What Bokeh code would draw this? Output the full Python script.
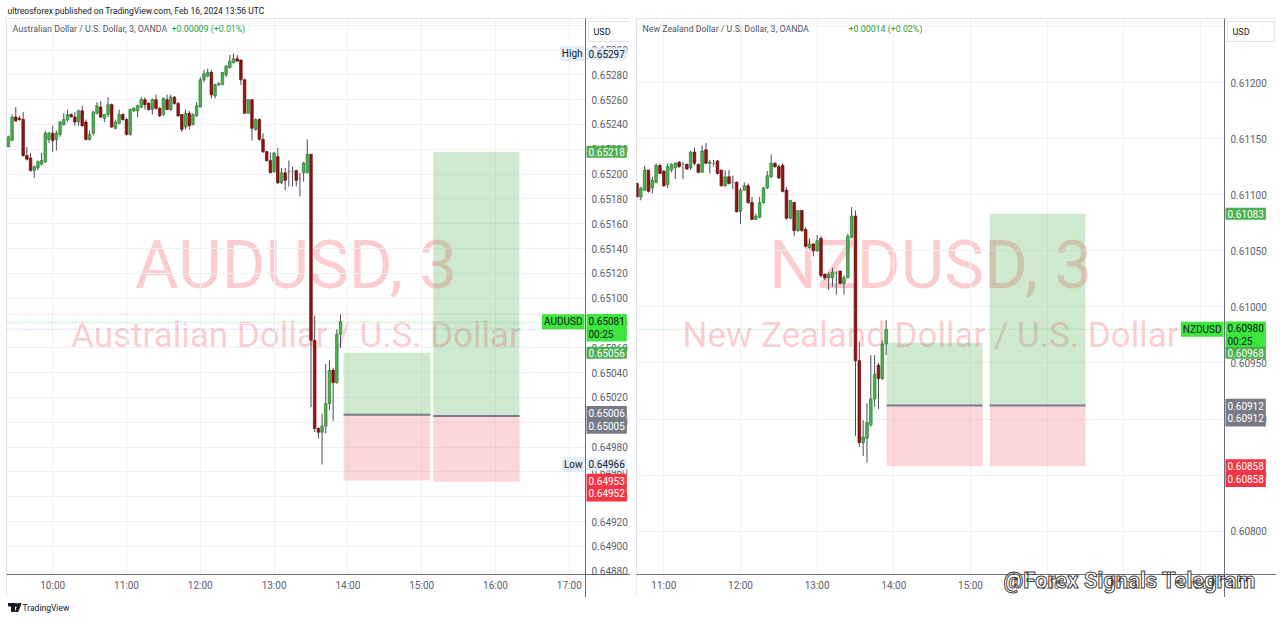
import pandas as pd
from bokeh.plotting import figure
from bokeh.models import (Range1d, FixedTicker, DatetimeTickFormatter,
                          PrintfTickFormatter, Label, Span, ColumnDataSource)
from bokeh.layouts import row, column
from bokeh.embed import file_html
from bokeh.resources import INLINE
from bokeh.core.properties import value

DAY = "2024-02-16 "
FONT = "Roboto"

TITLE = "ultreosforex published on TradingView.com, Feb 16, 2024 13:56 UTC"
FOOTER = "TradingView"
STAMP = "@Forex Signals Telegram"

# ---------------- AUDUSD, OANDA, 3-minute bars from 09:24 to 13:54 UTC ----------------
aud_first_bar = "09:24"
aud_open = [0.65222, 0.65227, 0.65246, 0.65245, 0.65244, 0.65215, 0.65213, 0.65203, 0.65205, 0.65208,
            0.65210, 0.65228, 0.65233, 0.65228, 0.65232, 0.65240, 0.65244, 0.65248, 0.65246, 0.65242,
            0.65251, 0.65242, 0.65228, 0.65233, 0.65249, 0.65254, 0.65245, 0.65248, 0.65256, 0.65237,
            0.65241, 0.65248, 0.65244, 0.65232, 0.65251, 0.65251, 0.65254, 0.65260, 0.65257, 0.65252,
            0.65260, 0.65253, 0.65248, 0.65260, 0.65252, 0.65262, 0.65257, 0.65248, 0.65238, 0.65249,
            0.65240, 0.65247, 0.65254, 0.65276, 0.65279, 0.65282, 0.65263, 0.65272, 0.65272, 0.65280,
            0.65286, 0.65290, 0.65293, 0.65292, 0.65276, 0.65249, 0.65260, 0.65236, 0.65244, 0.65228,
            0.65218, 0.65211, 0.65202, 0.65214, 0.65193, 0.65201, 0.65202, 0.65202, 0.65203, 0.65196,
            0.65201, 0.65201, 0.65216, 0.65066, 0.64995, 0.64992, 0.64997, 0.65015, 0.65042, 0.65032,
            0.65071]
aud_high = [0.65231, 0.65248, 0.65254, 0.65247, 0.65250, 0.65222, 0.65217, 0.65207, 0.65211, 0.65217,
            0.65235, 0.65234, 0.65239, 0.65235, 0.65243, 0.65249, 0.65252, 0.65249, 0.65250, 0.65252,
            0.65255, 0.65244, 0.65235, 0.65251, 0.65258, 0.65259, 0.65248, 0.65262, 0.65257, 0.65244,
            0.65252, 0.65249, 0.65245, 0.65253, 0.65254, 0.65256, 0.65262, 0.65262, 0.65258, 0.65261,
            0.65264, 0.65254, 0.65262, 0.65264, 0.65264, 0.65263, 0.65258, 0.65248, 0.65252, 0.65251,
            0.65249, 0.65258, 0.65278, 0.65284, 0.65285, 0.65284, 0.65273, 0.65274, 0.65282, 0.65288,
            0.65296, 0.65297, 0.65296, 0.65292, 0.65277, 0.65260, 0.65260, 0.65245, 0.65245, 0.65233,
            0.65219, 0.65217, 0.65218, 0.65221, 0.65205, 0.65205, 0.65211, 0.65206, 0.65203, 0.65201,
            0.65210, 0.65228, 0.65216, 0.65086, 0.64996, 0.65007, 0.65047, 0.65050, 0.65044, 0.65075,
            0.65087]
aud_low = [0.65222, 0.65227, 0.65242, 0.65243, 0.65214, 0.65211, 0.65202, 0.65197, 0.65203, 0.65207,
           0.65209, 0.65225, 0.65218, 0.65219, 0.65230, 0.65239, 0.65242, 0.65246, 0.65239, 0.65239,
           0.65238, 0.65227, 0.65227, 0.65231, 0.65248, 0.65245, 0.65242, 0.65246, 0.65237, 0.65236,
           0.65240, 0.65243, 0.65231, 0.65231, 0.65250, 0.65246, 0.65253, 0.65252, 0.65251, 0.65248,
           0.65252, 0.65246, 0.65247, 0.65252, 0.65251, 0.65256, 0.65246, 0.65234, 0.65236, 0.65236,
           0.65239, 0.65246, 0.65254, 0.65274, 0.65278, 0.65261, 0.65261, 0.65271, 0.65272, 0.65278,
           0.65285, 0.65289, 0.65291, 0.65272, 0.65249, 0.65249, 0.65227, 0.65235, 0.65227, 0.65217,
           0.65210, 0.65201, 0.65201, 0.65192, 0.65192, 0.65187, 0.65190, 0.65190, 0.65190, 0.65182,
           0.65194, 0.65201, 0.65012, 0.64992, 0.64987, 0.64966, 0.64991, 0.65010, 0.65001, 0.65031,
           0.65060]
aud_close = [0.65230, 0.65246, 0.65243, 0.65244, 0.65215, 0.65212, 0.65203, 0.65206, 0.65210, 0.65211,
             0.65233, 0.65233, 0.65227, 0.65233, 0.65242, 0.65244, 0.65248, 0.65246, 0.65242, 0.65251,
             0.65239, 0.65228, 0.65232, 0.65250, 0.65255, 0.65246, 0.65248, 0.65256, 0.65238, 0.65242,
             0.65248, 0.65244, 0.65232, 0.65252, 0.65253, 0.65255, 0.65260, 0.65256, 0.65252, 0.65260,
             0.65253, 0.65247, 0.65261, 0.65252, 0.65262, 0.65257, 0.65247, 0.65236, 0.65249, 0.65239,
             0.65248, 0.65255, 0.65276, 0.65281, 0.65282, 0.65264, 0.65272, 0.65273, 0.65282, 0.65287,
             0.65291, 0.65293, 0.65291, 0.65276, 0.65249, 0.65260, 0.65237, 0.65244, 0.65228, 0.65218,
             0.65211, 0.65201, 0.65217, 0.65193, 0.65201, 0.65195, 0.65202, 0.65202, 0.65195, 0.65196,
             0.65209, 0.65216, 0.65066, 0.64995, 0.64992, 0.64997, 0.65015, 0.65042, 0.65032, 0.65071,
             0.65081]
aud_hour_ticks = ["10:00", "11:00", "12:00", "13:00", "14:00", "15:00", "16:00", "17:00"]
aud_price_ticks = [0.6488, 0.6490, 0.6492, 0.6494, 0.6496, 0.6498, 0.6500, 0.6502, 0.6504, 0.6506,
                   0.6508, 0.6510, 0.6512, 0.6514, 0.6516, 0.6518, 0.6520, 0.6522, 0.6524, 0.6526,
                   0.6528, 0.6530, 0.6532]
# visible window: time start, time end, price low, price high; price-scale and time-scale positions
aud_view = ("09:22:27", "17:49:45", 0.648588, 0.653254)
aud_axis_time, aud_axis_price = "17:13:10", 0.648773
aud_pos_start = ["13:56:30", "15:09:30"]
aud_pos_end = ["15:07:00", "16:19:30"]
aud_pos_target = [0.65056, 0.65218]
aud_pos_entry = [0.65006, 0.65005]
aud_pos_stop = [0.64953, 0.64952]
aud_day_high, aud_day_low = 0.65297, 0.64966
aud_last = 0.65081
aud_quote_lines = [(0.65087, "#f7a1a1"), (0.65081, "#8fdc8f"), (0.65075, "#9fb6e8")]
aud_change = "+0.00009 (+0.01%)"

# ---------------- NZDUSD, OANDA, 3-minute bars from 10:39 to 13:54 UTC ----------------
nzd_first_bar = "10:39"
nzd_open = [0.61110, 0.61098, 0.61104, 0.61122, 0.61106, 0.61111, 0.61126, 0.61121, 0.61109, 0.61122,
            0.61124, 0.61129, 0.61127, 0.61127, 0.61124, 0.61138, 0.61127, 0.61120, 0.61140, 0.61128,
            0.61128, 0.61130, 0.61122, 0.61108, 0.61116, 0.61111, 0.61111, 0.61085, 0.61104, 0.61108,
            0.61093, 0.61078, 0.61080, 0.61093, 0.61106, 0.61116, 0.61128, 0.61125, 0.61126, 0.61104,
            0.61079, 0.61093, 0.61068, 0.61086, 0.61069, 0.61053, 0.61056, 0.61050, 0.61061, 0.61029,
            0.61026, 0.61026, 0.61030, 0.61032, 0.61021, 0.61026, 0.61062, 0.61081, 0.60952, 0.60879,
            0.60883, 0.60895, 0.60918, 0.60948, 0.60936, 0.60967]
nzd_high = [0.61111, 0.61107, 0.61126, 0.61122, 0.61116, 0.61128, 0.61128, 0.61122, 0.61128, 0.61128,
            0.61129, 0.61130, 0.61129, 0.61128, 0.61139, 0.61142, 0.61128, 0.61144, 0.61146, 0.61131,
            0.61131, 0.61131, 0.61122, 0.61122, 0.61122, 0.61117, 0.61112, 0.61106, 0.61111, 0.61110,
            0.61098, 0.61083, 0.61098, 0.61107, 0.61121, 0.61136, 0.61129, 0.61127, 0.61128, 0.61107,
            0.61095, 0.61094, 0.61086, 0.61086, 0.61071, 0.61061, 0.61057, 0.61064, 0.61063, 0.61030,
            0.61031, 0.61035, 0.61032, 0.61032, 0.61028, 0.61065, 0.61089, 0.61086, 0.60969, 0.60899,
            0.60914, 0.60957, 0.60957, 0.60950, 0.60970, 0.60988]
nzd_low = [0.61098, 0.61095, 0.61104, 0.61102, 0.61101, 0.61110, 0.61118, 0.61107, 0.61106, 0.61120,
           0.61114, 0.61124, 0.61114, 0.61122, 0.61122, 0.61126, 0.61119, 0.61120, 0.61127, 0.61119,
           0.61125, 0.61118, 0.61107, 0.61107, 0.61109, 0.61105, 0.61084, 0.61074, 0.61104, 0.61092,
           0.61078, 0.61078, 0.61079, 0.61092, 0.61105, 0.61115, 0.61124, 0.61114, 0.61102, 0.61078,
           0.61078, 0.61063, 0.61067, 0.61067, 0.61053, 0.61052, 0.61045, 0.61049, 0.61026, 0.61024,
           0.61015, 0.61018, 0.61011, 0.61020, 0.61011, 0.61026, 0.61061, 0.60885, 0.60875, 0.60867,
           0.60861, 0.60893, 0.60911, 0.60909, 0.60935, 0.60957]
nzd_close = [0.61098, 0.61106, 0.61122, 0.61103, 0.61113, 0.61126, 0.61119, 0.61108, 0.61125, 0.61127,
             0.61128, 0.61125, 0.61127, 0.61123, 0.61138, 0.61128, 0.61120, 0.61139, 0.61128, 0.61129,
             0.61128, 0.61119, 0.61108, 0.61116, 0.61110, 0.61111, 0.61085, 0.61104, 0.61108, 0.61093,
             0.61078, 0.61081, 0.61093, 0.61106, 0.61117, 0.61128, 0.61125, 0.61115, 0.61103, 0.61079,
             0.61095, 0.61068, 0.61086, 0.61068, 0.61054, 0.61056, 0.61050, 0.61059, 0.61028, 0.61026,
             0.61029, 0.61031, 0.61030, 0.61021, 0.61026, 0.61063, 0.61081, 0.60952, 0.60879, 0.60884,
             0.60897, 0.60918, 0.60940, 0.60936, 0.60967, 0.60980]
nzd_hour_ticks = ["11:00", "12:00", "13:00", "14:00", "15:00", "16:00", "17:00", "18:00"]
nzd_price_ticks = [0.6080, 0.6085, 0.6090, 0.6095, 0.6100, 0.6105, 0.6110, 0.6115, 0.6120, 0.6125]
nzd_view = ("10:38:38", "18:59:28", 0.607409, 0.612571)
nzd_axis_time, nzd_axis_price = "18:18:47", 0.607614
nzd_pos_start = ["13:54:20", "15:15:00"]
nzd_pos_end = ["15:09:30", "16:30:00"]
nzd_pos_target = [0.60968, 0.61083]
nzd_pos_entry = [0.60912, 0.60912]
nzd_pos_stop = [0.60858, 0.60858]
nzd_last = 0.60980
nzd_quote_lines = [(0.60980, "#8fdc8f")]
nzd_change = "+0.00014 (+0.02%)"

# ---------------- styling ----------------
UP_FILL, UP_LINE = "#4caf50", "#2f7d32"
DN_FILL, DN_LINE = "#8e1313", "#6a0c0c"
DOJI = "#787b86"
WICK = "#4a4d57"
TAG_GREEN = "#4caf50"
TAG_LIVE = "#3ce63c"
TAG_GRAY = "#787b86"
TAG_RED = "#f23645"
TAG_HL = "#e3eefb"
TEXT = "#131722"
AXIS_TEXT = "#5d606b"
WATER = "#f23645"
PANEL_H = 579          # whole pane incl. time scale


def stamp(t):
    return pd.Timestamp(DAY + t)


def tag(p, cfg, price, text, bg, fg, inside=False, dy=0):
    cw = cfg["chart_w"]
    x, align = (cw - 1, "right") if inside else (cw + 1, "left")
    p.add_layout(Label(x=x, y=price, x_units="screen", y_units="data", y_offset=dy,
                       text=text, text_align=align, text_baseline="middle",
                       text_font=FONT, text_font_size="10px", text_color=fg,
                       text_line_height=1.15,
                       background_fill_color=bg, background_fill_alpha=1.0,
                       padding=2))


def make_panel(cfg):
    fw, cw = cfg["frame_w"], cfg["chart_w"]
    v0, v1, lo, hi = cfg["view"]
    p = figure(frame_width=fw, frame_height=PANEL_H, title=None,
               x_axis_type="datetime", y_axis_location="right",
               x_range=Range1d(stamp(v0), stamp(v1)), y_range=Range1d(lo, hi),
               min_border_left=6, min_border_right=0,
               min_border_top=0, min_border_bottom=0,
               output_backend="svg", toolbar_location=None)
    p.background_fill_color = "white"
    p.border_fill_color = "white"
    p.outline_line_color = "#e0e3eb"

    axis_t = stamp(cfg["axis_time"])
    # axes drawn inside the pane, like TradingView's price and time scales
    xt = FixedTicker(ticks=[stamp(hh).value / 1e6 for hh in cfg["hour_ticks"]], minor_ticks=[])
    yt = FixedTicker(ticks=cfg["price_ticks"], minor_ticks=[])
    p.xaxis.ticker = xt
    p.xgrid.ticker = xt
    p.yaxis.ticker = yt
    p.ygrid.ticker = yt
    p.yaxis.fixed_location = axis_t.value / 1e6
    p.xaxis.fixed_location = cfg["axis_price"]
    p.xaxis.formatter = DatetimeTickFormatter(
        hours="%H:%M", hourmin="%H:%M", minutes="%H:%M", minsec="%H:%M",
        seconds="%H:%M", days="%H:%M", months="%H:%M", years="%H:%M")
    p.yaxis.formatter = PrintfTickFormatter(format="%.5f")
    p.axis.major_tick_line_color = None
    p.axis.minor_tick_line_color = None
    p.axis.major_tick_out = 0
    p.axis.major_tick_in = 0
    p.axis.minor_tick_out = 0
    p.axis.minor_tick_in = 0
    p.axis.axis_line_color = "#6a6d78"
    p.axis.major_label_text_font = FONT
    p.axis.major_label_text_font_size = "10px"
    p.axis.major_label_text_color = AXIS_TEXT
    p.yaxis.major_label_standoff = 6
    p.xaxis.major_label_standoff = 5
    p.grid.grid_line_color = "#eff1f5"

    # watermark
    p.add_layout(Label(x=cw / 2, y=333, x_units="screen", y_units="screen", text=cfg["symbol"],
                       text_align="center", text_baseline="middle", text_font=FONT,
                       text_font_size="67px", text_color=WATER, text_alpha=0.25, level="image"))
    p.add_layout(Label(x=cw / 2, y=262, x_units="screen", y_units="screen", text=cfg["name"],
                       text_align="center", text_baseline="middle", text_font=FONT,
                       text_font_size="35px", text_color=WATER, text_alpha=0.25, level="image"))

    # bid / ask / last price lines
    for price, col in cfg["quote_lines"]:
        p.add_layout(Span(location=price, dimension="width", line_color=col,
                          line_dash="1 2", line_width=1, level="underlay"))

    # candles
    o, h, l, c = cfg["open"], cfg["high"], cfg["low"], cfg["close"]
    t = pd.date_range(DAY + cfg["first_bar"], periods=len(o), freq="3min")
    src = ColumnDataSource(dict(
        t=t, h=h, l=l,
        top=[max(a, b) for a, b in zip(o, c)],
        bot=[min(a, b) for a, b in zip(o, c)],
        fill=[UP_FILL if b > a else DN_FILL if b < a else DOJI for a, b in zip(o, c)],
        edge=[UP_LINE if b > a else DN_LINE if b < a else DOJI for a, b in zip(o, c)],
    ))
    p.segment(x0="t", y0="h", x1="t", y1="l", source=src, line_color=WICK, line_width=1)
    p.vbar(x="t", width=125000, top="top", bottom="bot", source=src,
           fill_color="fill", line_color="edge", line_width=0.7)

    # long-position tools
    psrc = ColumnDataSource(dict(
        l=pd.to_datetime([DAY + s for s in cfg["pos_start"]]),
        r=pd.to_datetime([DAY + s for s in cfg["pos_end"]]),
        tgt=cfg["pos_target"], ent=cfg["pos_entry"], stp=cfg["pos_stop"]))
    p.quad(left="l", right="r", bottom="ent", top="tgt", source=psrc,
           fill_color=UP_FILL, fill_alpha=0.27, line_color=None)
    p.quad(left="l", right="r", bottom="stp", top="ent", source=psrc,
           fill_color=TAG_RED, fill_alpha=0.2, line_color=None)
    p.segment(x0="l", y0="ent", x1="r", y1="ent", source=psrc, line_color=TAG_GRAY, line_width=2)

    # plain background for the price scale and the time scale
    p.quad(left=[axis_t], right=[stamp(v1)], bottom=[lo], top=[hi],
           fill_color="white", line_color=None)
    p.quad(left=[stamp(v0)], right=[stamp(v1)], bottom=[lo], top=[cfg["axis_price"]],
           fill_color="white", line_color=None)

    # pane legend
    p.add_layout(Label(x=6, y=PANEL_H - 10, x_units="screen", y_units="screen", text=cfg["legend"],
                       text_font=FONT, text_font_size="8.8px", text_color="#50535e",
                       text_baseline="middle"))
    p.add_layout(Label(x=cfg["change_x"], y=PANEL_H - 10, x_units="screen", y_units="screen",
                       text=cfg["change"], text_font=FONT, text_font_size="8.8px",
                       text_color="#2e9c3a", text_baseline="middle"))
    # currency button
    p.add_layout(Label(x=cw + 3, y=PANEL_H - 13, x_units="screen", y_units="screen",
                       text="USD         ", text_font=FONT, text_font_size="9px", text_color=TEXT,
                       text_baseline="middle", background_fill_color="white",
                       border_line_color="#e0e3eb", padding=5))
    return p


aud_cfg = dict(frame_w=624, chart_w=579, view=aud_view, axis_time=aud_axis_time,
               axis_price=aud_axis_price, first_bar=aud_first_bar,
               open=aud_open, high=aud_high, low=aud_low, close=aud_close,
               hour_ticks=aud_hour_ticks, price_ticks=aud_price_ticks,
               symbol="AUDUSD, 3", name="Australian Dollar / U.S. Dollar",
               legend="Australian Dollar / U.S. Dollar, 3, OANDA", change=aud_change, change_x=165,
               pos_start=aud_pos_start, pos_end=aud_pos_end, pos_target=aud_pos_target,
               pos_entry=aud_pos_entry, pos_stop=aud_pos_stop, quote_lines=aud_quote_lines)
nzd_cfg = dict(frame_w=640, chart_w=588, view=nzd_view, axis_time=nzd_axis_time,
               axis_price=nzd_axis_price, first_bar=nzd_first_bar,
               open=nzd_open, high=nzd_high, low=nzd_low, close=nzd_close,
               hour_ticks=nzd_hour_ticks, price_ticks=nzd_price_ticks,
               symbol="NZDUSD, 3", name="New Zealand Dollar / U.S. Dollar",
               legend="New Zealand Dollar / U.S. Dollar, 3, OANDA", change=nzd_change, change_x=212,
               pos_start=nzd_pos_start, pos_end=nzd_pos_end, pos_target=nzd_pos_target,
               pos_entry=nzd_pos_entry, pos_stop=nzd_pos_stop, quote_lines=nzd_quote_lines)

left = make_panel(aud_cfg)
tag(left, aud_cfg, aud_day_high, "High", TAG_HL, TEXT, inside=True)
tag(left, aud_cfg, aud_day_high, "0.65297", TAG_HL, TEXT)
tag(left, aud_cfg, aud_pos_target[1], "0.65218", TAG_GREEN, "white")
tag(left, aud_cfg, aud_last, "AUDUSD", TAG_LIVE, TEXT, inside=True)
tag(left, aud_cfg, aud_last, "0.65081\n00:25", TAG_LIVE, TEXT, dy=-6)
tag(left, aud_cfg, aud_pos_target[0], "0.65056", TAG_GREEN, "white")
tag(left, aud_cfg, aud_pos_entry[0], "0.65006\n0.65005", TAG_GRAY, "white", dy=-5)
tag(left, aud_cfg, aud_day_low, "Low", TAG_HL, TEXT, inside=True)
tag(left, aud_cfg, aud_day_low, "0.64966", TAG_HL, TEXT)
tag(left, aud_cfg, aud_pos_stop[0], "0.64953\n0.64952", TAG_RED, "white", dy=-7)

right = make_panel(nzd_cfg)
tag(right, nzd_cfg, nzd_pos_target[1], "0.61083", TAG_GREEN, "white")
tag(right, nzd_cfg, nzd_last, "NZDUSD", TAG_LIVE, TEXT, inside=True)
tag(right, nzd_cfg, nzd_last, "0.60980\n00:25", TAG_LIVE, TEXT, dy=-6)
tag(right, nzd_cfg, nzd_pos_target[0], "0.60968", TAG_GREEN, "white", dy=-10)
tag(right, nzd_cfg, nzd_pos_entry[0], "0.60912\n0.60912", TAG_GRAY, "white", dy=-7)
tag(right, nzd_cfg, nzd_pos_stop[0], "0.60858\n0.60858", TAG_RED, "white", dy=-7)

stamp_label = Label(x=367, y=17, x_units="screen", y_units="screen", text=STAMP,
                    text_font=FONT, text_font_style="bold", text_font_size="22px",
                    text_color="white", text_baseline="middle", level="overlay")
try:
    stamp_label.text_outline_color = "#444444"
except Exception:
    stamp_label.text_color = "#777777"
right.add_layout(stamp_label)

# header and footer strips
header = figure(width=1276, height=18, x_range=Range1d(0, 1276), y_range=Range1d(0, 18),
                x_axis_location=None, y_axis_location=None, min_border=0, title=None,
                outline_line_color=None, toolbar_location=None, output_backend="svg")
header.grid.visible = False
header.text(x=[7], y=[8], text=[TITLE], text_font=value(FONT), text_font_size="8.5px",
            text_color=TEXT, text_baseline="middle")

footer = figure(width=1276, height=19, x_range=Range1d(0, 1276), y_range=Range1d(0, 19),
                x_axis_location=None, y_axis_location=None, min_border=0, title=None,
                outline_line_color=None, toolbar_location=None, output_backend="svg")
footer.grid.visible = False
footer.quad(left=[8], right=[14], bottom=[10.5], top=[13], color=TEXT)
footer.quad(left=[11], right=[14], bottom=[5], top=[13], color=TEXT)
footer.scatter(x=[15.8], y=[11.6], size=3, color=TEXT)
footer.patch(x=[15, 18, 20.5, 17.5], y=[5, 13, 13, 5], color=TEXT)
footer.text(x=[22], y=[9], text=[FOOTER], text_font=value(FONT), text_font_size="8.5px",
            text_color=TEXT, text_baseline="middle")

layout = column(header, row(left, right), footer)
open("out.html", "w").write(file_html(layout, INLINE))
